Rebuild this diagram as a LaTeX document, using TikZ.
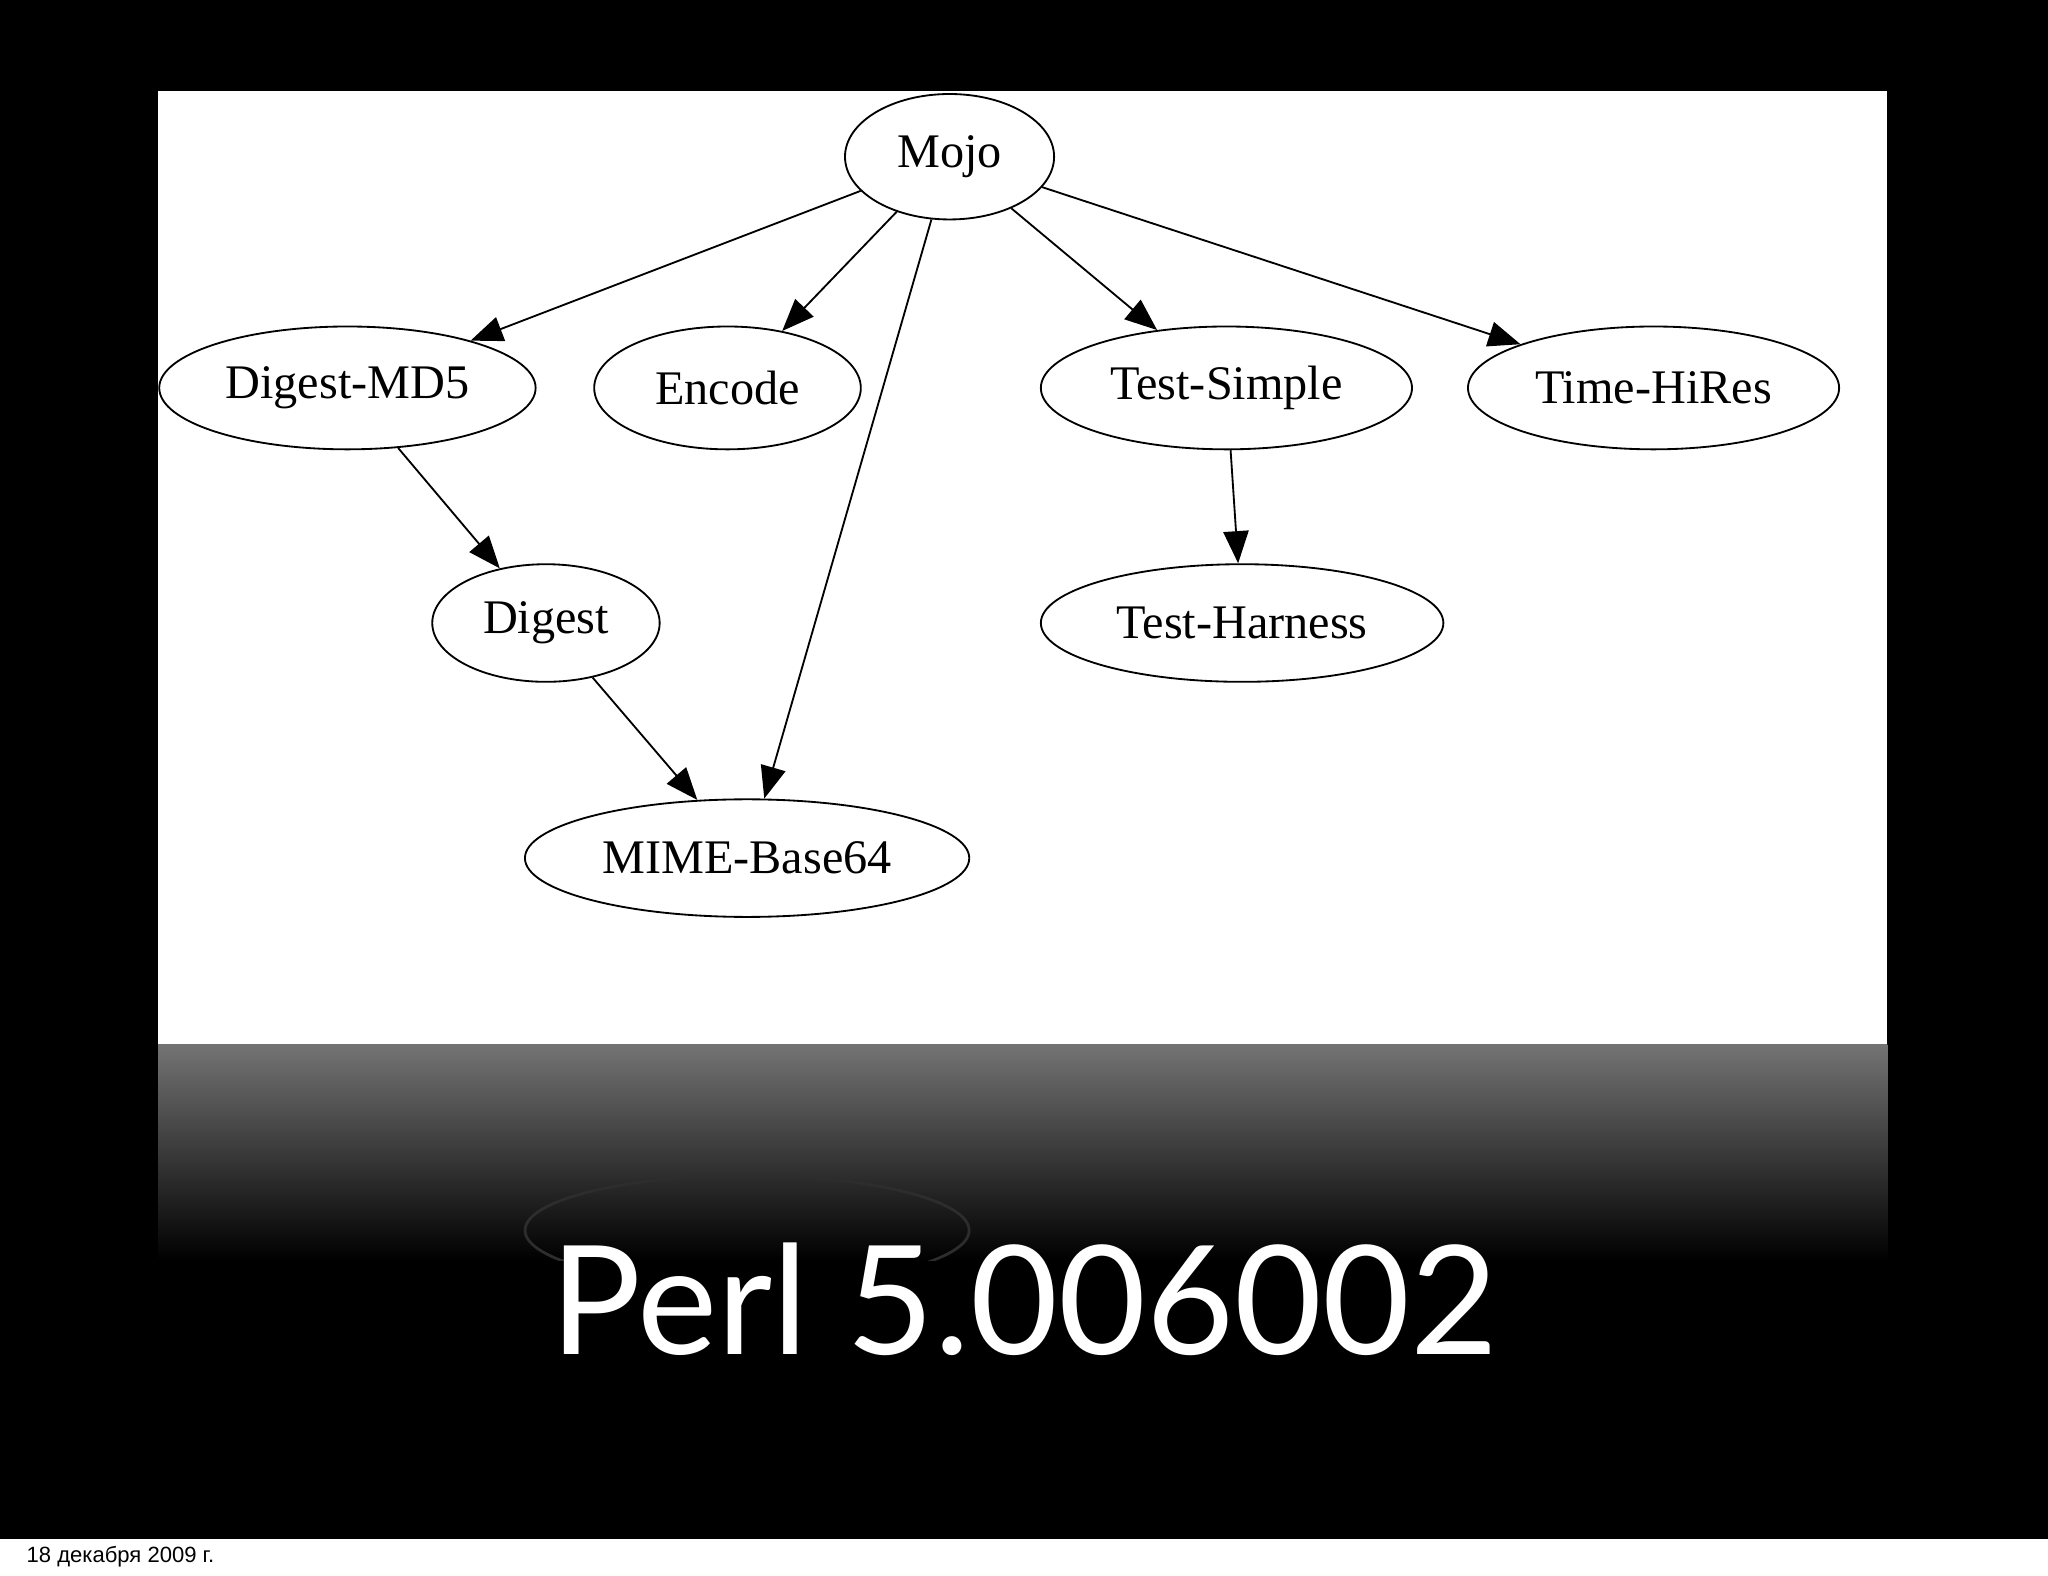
\documentclass[tikz,border=0pt]{standalone}
\usepackage{fontspec}
\setmainfont{Liberation Serif}
\newfontfamily\perlfont{Lato}
\newfontfamily\datefont{Liberation Sans}
\usetikzlibrary{arrows.meta,shapes.geometric}
\begin{document}
\begin{tikzpicture}[x=0.01cm,y=0.01cm,
  gnode/.style={draw,ellipse,inner sep=0pt,line width=0.4pt,font=\fontsize{10.5}{12}\selectfont},
  gedge/.style={-{Triangle[length=7pt,width=5.5pt]},line width=0.4pt}]
\useasboundingbox (0,0) rectangle (1568,-1206);
\fill[black] (0,0) rectangle (1568,-1206);
\fill[white] (0,-1178) rectangle (1568,-1206);
\node[anchor=west,font=\datefont\fontsize{4.8}{5}\selectfont] (date) at (8,-1192) {18 декабря 2009 г.};
\fill[white] (121,-70) rectangle (1445,-800);
\shade[top color={rgb,255:red,115;green,115;blue,115},bottom color=black] (121,-800) rectangle (1445,-965);
\begin{scope}
\clip (121,-800) rectangle (1445,-965);
\draw[color={rgb,255:red,45;green,45;blue,45},line width=0.6pt] (572,-942) ellipse [x radius=170,y radius=42];
\end{scope}
\node[gnode,minimum width=1.60cm,minimum height=0.96cm] (mojo) at (727,-120) {Mojo};
\node[gnode,minimum width=2.88cm,minimum height=0.94cm] (md5) at (266,-297) {Digest-MD5};
\node[gnode,minimum width=2.04cm,minimum height=0.94cm] (enc) at (557,-297) {Encode};
\node[gnode,minimum width=2.84cm,minimum height=0.94cm] (ts) at (939,-297) {Test-Simple};
\node[gnode,minimum width=2.84cm,minimum height=0.94cm] (thr) at (1266,-297) {Time-HiRes};
\node[gnode,minimum width=1.74cm,minimum height=0.90cm] (dig) at (418,-477) {Digest};
\node[gnode,minimum width=3.08cm,minimum height=0.90cm] (th) at (951,-477) {Test-Harness};
\node[gnode,minimum width=3.40cm,minimum height=0.90cm] (mime) at (572,-657) {MIME-Base64};
\draw[gedge] (mojo) -- (md5);
\draw[gedge] (mojo) -- (enc);
\draw[gedge] (mojo) -- (mime);
\draw[gedge] (mojo) -- (ts);
\draw[gedge] (mojo) -- (thr);
\draw[gedge] (md5) -- (dig);
\draw[gedge] (dig) -- (mime);
\draw[gedge] (ts) -- (th);
\node[text=white,font=\perlfont\fontsize{33}{40}\selectfont] (perl) at (784,-995) {Perl 5.006002};
\end{tikzpicture}
\end{document}
